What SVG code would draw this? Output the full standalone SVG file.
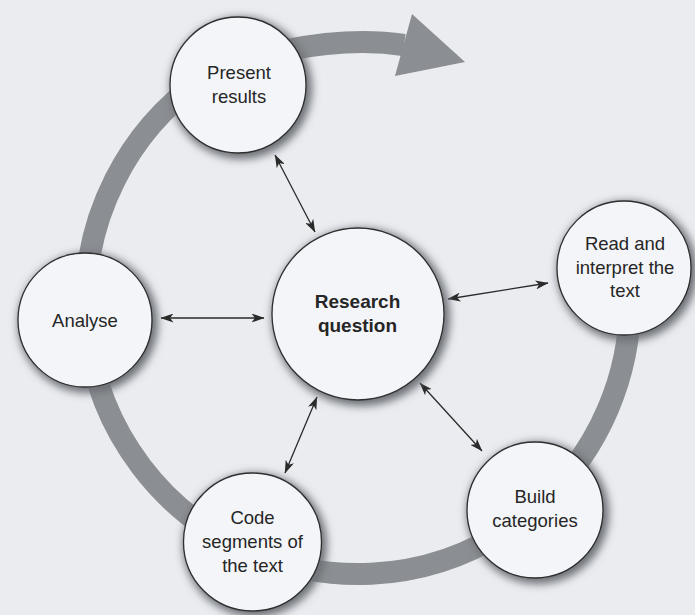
<svg xmlns="http://www.w3.org/2000/svg" width="695" height="615" viewBox="0 0 695 615">
  <defs>
    <filter id="halo" x="-30%" y="-30%" width="160%" height="160%">
      <feGaussianBlur stdDeviation="4"/>
    </filter>
    <marker id="ah" viewBox="0 0 13 9" refX="12.5" refY="4.5" markerWidth="13" markerHeight="9" markerUnits="userSpaceOnUse" orient="auto-start-reverse">
      <path d="M0,0 L13,4.5 L0,9 L3.5,4.5 z" fill="#2a2a2a"/>
    </marker>
  </defs>
  <style>
    .bg { fill: #eaecf0; }
    .band { fill: none; stroke: #8b8e92; stroke-width: 22; stroke-linecap: butt; }
    .head { fill: #8b8e92; }
    .shadow { fill: #6c6f74; filter: url(#halo); }
    .disk { fill: #f4f5f8; stroke: #2e2e2e; stroke-width: 1.3; }
    .lbl { font-family: "Liberation Sans", Arial, sans-serif; font-size: 18.5px; fill: #262626; text-anchor: middle; }
    .bold { font-weight: bold; font-size: 19px; }
    .conn { stroke: #2a2a2a; stroke-width: 1.3; fill: none; marker-start: url(#ah); marker-end: url(#ah); }
  </style>
  <rect class="bg" x="0" y="0" width="695" height="615"/>

  <g id="cycle">
    <path class="band" d="M629,280 A272,272 0 1 1 200,80.6 C232,58 330,34 404,45"/>
    <polygon class="head" points="412,14 465,62 395,76"/>
  </g>

  <g id="connectors">
    <line class="conn" x1="275" y1="155" x2="315" y2="232"/>
    <line class="conn" x1="161" y1="318" x2="264" y2="318"/>
    <line class="conn" x1="448" y1="299" x2="548" y2="283"/>
    <line class="conn" x1="317" y1="397" x2="285" y2="473"/>
    <line class="conn" x1="420" y1="383" x2="482" y2="451"/>
  </g>

  <g id="present-results">
    <circle class="shadow" cx="241" cy="88" r="71"/>
    <circle class="disk" cx="238" cy="85" r="68"/>
    <text class="lbl" x="239" y="79">Present</text>
    <text class="lbl" x="239" y="103">results</text>
  </g>

  <g id="research-question">
    <circle class="shadow" cx="361" cy="317" r="89"/>
    <circle class="disk" cx="358" cy="314" r="86"/>
    <text class="lbl bold" x="357.5" y="308">Research</text>
    <text class="lbl bold" x="357.5" y="332">question</text>
  </g>

  <g id="read-interpret">
    <circle class="shadow" cx="627" cy="271" r="70"/>
    <circle class="disk" cx="624" cy="268" r="67"/>
    <text class="lbl" x="625" y="250">Read and</text>
    <text class="lbl" x="625" y="274">interpret the</text>
    <text class="lbl" x="625" y="297">text</text>
  </g>

  <g id="analyse">
    <circle class="shadow" cx="88" cy="323" r="70"/>
    <circle class="disk" cx="85" cy="320" r="67"/>
    <text class="lbl" x="85" y="327">Analyse</text>
  </g>

  <g id="code-segments">
    <circle class="shadow" cx="255" cy="545" r="72"/>
    <circle class="disk" cx="252.5" cy="542" r="69"/>
    <text class="lbl" x="252.5" y="524">Code</text>
    <text class="lbl" x="252.5" y="548">segments of</text>
    <text class="lbl" x="252.5" y="572">the text</text>
  </g>

  <g id="build-categories">
    <circle class="shadow" cx="538" cy="513" r="71"/>
    <circle class="disk" cx="535" cy="510" r="68"/>
    <text class="lbl" x="535" y="503">Build</text>
    <text class="lbl" x="535" y="527">categories</text>
  </g>
</svg>
